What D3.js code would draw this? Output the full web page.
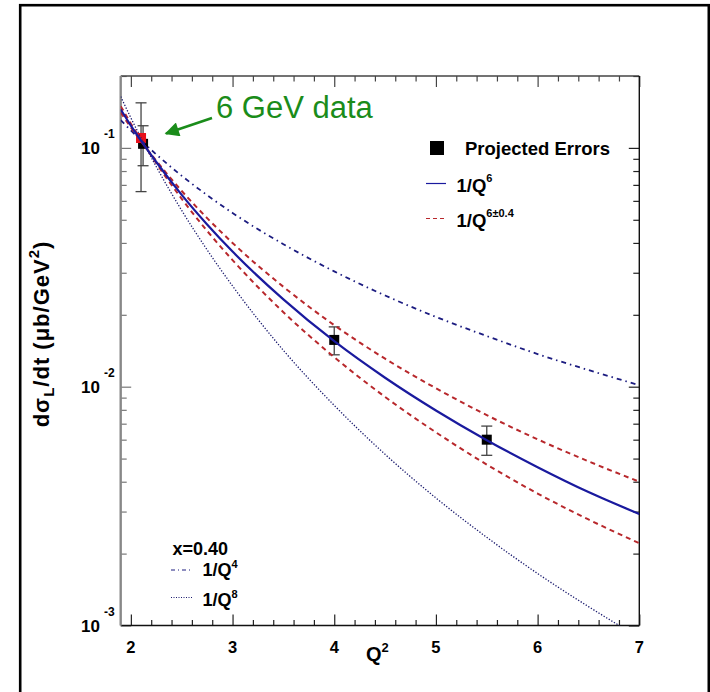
<!DOCTYPE html>
<html lang="en">
<head>
    <meta charset="UTF-8">
    <title>dsigma_L/dt vs Q2</title>
    <script src="https://cdn.jsdelivr.net/npm/d3@7"></script>
    <style>
        body {
            margin: 0;
            background: white;
        }

        text {
            font-family: "Liberation Sans", Arial, Helvetica, sans-serif;
            font-weight: bold;
        }
    </style>
</head>
<body>

<svg id="fig" width="710" height="692"></svg>

<script>
    // curves at these Q2 values
    let q2_grid = [1.9, 2.0, 2.25, 2.5, 2.75, 3.0, 3.5, 4.0, 4.5, 5.0, 5.5, 6.0, 6.5, 7.0]
    let q6_curve = [0.145, 0.124, 0.0873, 0.0636, 0.0478, 0.0368, 0.0232, 0.0155, 0.0109, 0.00795, 0.00597, 0.00460, 0.00362, 0.00293]
    let q6_upper = [0.1405, 0.1218, 0.0883, 0.0660, 0.0508, 0.0400, 0.0262, 0.0181, 0.0131, 0.00985, 0.00760, 0.00602, 0.00487, 0.00400]
    let q6_lower = [0.1495, 0.1263, 0.0863, 0.0612, 0.0449, 0.0339, 0.0205, 0.0133, 0.00906, 0.00644, 0.00472, 0.00357, 0.00278, 0.00221]
    let q4_curve = [0.1307, 0.1183, 0.0939, 0.0764, 0.0634, 0.0534, 0.0395, 0.0304, 0.0241, 0.0196, 0.0163, 0.0137, 0.01174, 0.01015]
    let q8_curve = [0.164, 0.1336, 0.0834, 0.0547, 0.0374, 0.0264, 0.0142, 0.00835, 0.00521, 0.00342, 0.00234, 0.00165, 0.00120, 0.00089]

    // points with errors
    let proj_q2 = [2.12, 4.0, 5.5]
    let proj_val = [0.104, 0.0157, 0.0060]
    let proj_err = [0.0198, 0.0021, 0.00084]
    let gev_q2 = [2.10]
    let gev_val = [0.110]
    let gev_err = [0.0444]

    let x_major = [2, 3, 4, 5, 6, 7]
    let y_major = [0.001, 0.01, 0.1]
    let y_exp = ["-3", "-2", "-1"]

    let svg = d3.select("#fig")

    // outer frame of the picture
    svg.append("rect")
        .attr("x", 20.2).attr("y", 5.2)
        .attr("width", 688.6).attr("height", 720)
        .attr("fill", "none")
        .attr("stroke", "black")
        .attr("stroke-width", 2.6)

    let f_left = 120.7, f_right = 639.3, f_top = 76, f_bottom = 625.5
    let x = d3.scaleLinear().domain([1.9, 7]).range([f_left, f_right])
    let y = d3.scaleLog().domain([0.001, 0.2]).range([f_bottom, f_top])

    let x_minor = d3.range(2.2, 6.9, 0.2).filter(v => Math.abs(v - Math.round(v)) > 0.05)
    let y_minor = []
    for (let dec of [0.001, 0.01]) {
        for (let k = 2; k <= 9; k++) y_minor.push(k * dec)
    }
    y_minor.push(0.2)

    function tickAxis(axisFn, scale, values, size, pos, color) {
        let g = svg.append("g")
            .attr("transform", pos)
            .call(axisFn(scale).tickValues(values).tickSize(size).tickFormat(""))
        g.select(".domain").remove()
        g.selectAll("line").attr("stroke", color).attr("stroke-width", 1.2)
        return g
    }

    // ticks on all four sides, pointing in
    tickAxis(d3.axisTop, x, x_minor, 5.5, `translate(0,${f_bottom})`, "#222")
    tickAxis(d3.axisTop, x, x_major, 11, `translate(0,${f_bottom})`, "#222")
    tickAxis(d3.axisBottom, x, x_minor, 5.5, `translate(0,${f_top})`, "#444")
    tickAxis(d3.axisBottom, x, x_major, 11, `translate(0,${f_top})`, "#444")
    tickAxis(d3.axisRight, y, y_minor, 6, `translate(${f_left},0)`, "#777")
    tickAxis(d3.axisRight, y, y_major, 10.5, `translate(${f_left},0)`, "#777")
    tickAxis(d3.axisLeft, y, y_minor, 6, `translate(${f_right},0)`, "#222")
    tickAxis(d3.axisLeft, y, y_major, 10.5, `translate(${f_right},0)`, "#222")

    // frame lines
    svg.append("line").attr("x1", f_left).attr("x2", f_right).attr("y1", f_bottom).attr("y2", f_bottom)
        .attr("stroke", "#111").attr("stroke-width", 1.6)
    svg.append("line").attr("x1", f_left).attr("x2", f_right).attr("y1", f_top).attr("y2", f_top)
        .attr("stroke", "#444").attr("stroke-width", 1.4)
    svg.append("line").attr("x1", f_left).attr("x2", f_left).attr("y1", f_top).attr("y2", f_bottom)
        .attr("stroke", "#888").attr("stroke-width", 2.4)
    svg.append("line").attr("x1", f_right).attr("x2", f_right).attr("y1", f_top).attr("y2", f_bottom)
        .attr("stroke", "#111").attr("stroke-width", 1.4)

    // tick labels
    svg.append("g").selectAll("text")
        .data(x_major)
        .join("text")
        .attr("x", d => x(d))
        .attr("y", 652.5)
        .attr("text-anchor", "middle")
        .style("font-size", "16.5px")
        .text(d => d)

    y_major.forEach(function (v, i) {
        svg.append("text")
            .attr("x", 100)
            .attr("y", y(v) + 6)
            .attr("text-anchor", "end")
            .style("font-size", "17px")
            .text("10")
        svg.append("text")
            .attr("x", 104)
            .attr("y", y(v) - 10)
            .style("font-size", "12px")
            .text(y_exp[i])
    })

    // axis titles
    let xt = svg.append("text")
        .attr("x", 366)
        .attr("y", 661)
        .style("font-size", "20px")
    xt.append("tspan").text("Q")
    xt.append("tspan").attr("dy", -9).style("font-size", "13px").text("2")

    let yt = svg.append("text")
        .attr("transform", "translate(49,334) rotate(-90)")
        .attr("text-anchor", "middle")
        .style("font-size", "22px")
        .style("letter-spacing", "1px")
    yt.append("tspan").text("d\u03c3")
    yt.append("tspan").attr("dy", 5).style("font-size", "15px").text("L")
    yt.append("tspan").attr("dy", -5).text("/dt (\u03bcb/GeV")
    yt.append("tspan").attr("dy", -10).style("font-size", "15px").text("2")
    yt.append("tspan").attr("dy", 10).text(")")

    // error bars and squares
    function errorBars(xs, vs, es, color) {
        let g = svg.append("g").attr("stroke", color).attr("stroke-width", 1.3)
        xs.forEach(function (q, i) {
            let cx = x(q), y1 = y(vs[i] + es[i]), y2 = y(vs[i] - es[i])
            g.append("line").attr("x1", cx).attr("x2", cx).attr("y1", y1).attr("y2", y2)
            g.append("line").attr("x1", cx - 5.5).attr("x2", cx + 5.5).attr("y1", y1).attr("y2", y1)
            g.append("line").attr("x1", cx - 5.5).attr("x2", cx + 5.5).attr("y1", y2).attr("y2", y2)
        })
    }

    errorBars(gev_q2, gev_val, gev_err, "#444")
    errorBars(proj_q2, proj_val, proj_err, "#444")

    svg.append("g").selectAll("rect")
        .data(proj_q2)
        .join("rect")
        .attr("x", d => x(d) - 5)
        .attr("y", (d, i) => y(proj_val[i]) - 5)
        .attr("width", 10).attr("height", 10)
        .attr("fill", "black")

    svg.append("g").selectAll("rect")
        .data(gev_q2)
        .join("rect")
        .attr("x", d => x(d) - 5)
        .attr("y", (d, i) => y(gev_val[i]) - 5)
        .attr("width", 10).attr("height", 10)
        .attr("fill", "#e8101a")

    // curves, clipped to frame
    svg.append("clipPath").attr("id", "frame")
        .append("rect").attr("x", f_left).attr("y", f_top)
        .attr("width", f_right - f_left).attr("height", f_bottom - f_top)

    let line = d3.line()
        .x((d, i) => x(q2_grid[i]))
        .y(d => y(d))
        .curve(d3.curveMonotoneX)

    let curves = svg.append("g").attr("clip-path", "url(#frame)").attr("fill", "none")
    curves.append("path").attr("d", line(q8_curve))
        .attr("stroke", "#1a1a6e").attr("stroke-width", 1.3).attr("stroke-dasharray", "1.3,1.7")
    curves.append("path").attr("d", line(q4_curve))
        .attr("stroke", "#1c1c80").attr("stroke-width", 1.8).attr("stroke-dasharray", "5,4,1.5,4")
    curves.append("path").attr("d", line(q6_upper))
        .attr("stroke", "#b8282c").attr("stroke-width", 2).attr("stroke-dasharray", "5,4")
    curves.append("path").attr("d", line(q6_lower))
        .attr("stroke", "#b8282c").attr("stroke-width", 2).attr("stroke-dasharray", "5,4")
    curves.append("path").attr("d", line(q6_curve))
        .attr("stroke", "#1a1a9e").attr("stroke-width", 2.2)

    // upper right legend
    svg.append("rect").attr("x", 430).attr("y", 141).attr("width", 14).attr("height", 14).attr("fill", "black")
    svg.append("text").attr("x", 465).attr("y", 155).style("font-size", "18.5px").text("Projected Errors")

    svg.append("line").attr("x1", 426).attr("x2", 446).attr("y1", 183.5).attr("y2", 183.5)
        .attr("stroke", "#1a1a9e").attr("stroke-width", 1.2)
    let l1 = svg.append("text").attr("x", 456.5).attr("y", 191.5).style("font-size", "18.5px")
    l1.append("tspan").text("1/Q")
    l1.append("tspan").attr("dy", -10).style("font-size", "11px").text("6")

    svg.append("line").attr("x1", 426).attr("x2", 446).attr("y1", 218.5).attr("y2", 218.5)
        .attr("stroke", "#b8282c").attr("stroke-width", 1.2).attr("stroke-dasharray", "4,3")
    let l2 = svg.append("text").attr("x", 456.5).attr("y", 226.5).style("font-size", "18.5px")
    l2.append("tspan").text("1/Q")
    l2.append("tspan").attr("dy", -10).style("font-size", "11px").text("6\u00b10.4")

    // lower left legend
    svg.append("text").attr("x", 172.5).attr("y", 554.5).style("font-size", "18px").text("x=0.40")
    svg.append("line").attr("x1", 171).attr("x2", 190).attr("y1", 570).attr("y2", 570)
        .attr("stroke", "#1c1c80").attr("stroke-width", 1).attr("stroke-dasharray", "4,3,1,3")
    let l3 = svg.append("text").attr("x", 202.5).attr("y", 575.5).style("font-size", "18px")
    l3.append("tspan").text("1/Q")
    l3.append("tspan").attr("dy", -8).style("font-size", "11px").text("4")

    svg.append("line").attr("x1", 171).attr("x2", 192).attr("y1", 597.5).attr("y2", 597.5)
        .attr("stroke", "#1a1a6e").attr("stroke-width", 1).attr("stroke-dasharray", "1,1.5")
    let l4 = svg.append("text").attr("x", 202.5).attr("y", 606).style("font-size", "18px")
    l4.append("tspan").text("1/Q")
    l4.append("tspan").attr("dy", -8).style("font-size", "11px").text("8")

    // annotation
    let green = "#1a8c1a"
    svg.append("defs").append("marker")
        .attr("id", "head")
        .attr("viewBox", "0 0 10 10")
        .attr("refX", 9).attr("refY", 5)
        .attr("markerWidth", 6).attr("markerHeight", 5.5)
        .attr("markerUnits", "strokeWidth")
        .attr("orient", "auto")
        .append("path").attr("d", "M0,0 L10,5 L0,10 z").attr("fill", green)
    svg.append("line")
        .attr("x1", 212).attr("y1", 118)
        .attr("x2", 166).attr("y2", 133.5)
        .attr("stroke", green).attr("stroke-width", 2.6)
        .attr("marker-end", "url(#head)")
    svg.append("text")
        .attr("x", 216).attr("y", 117.5)
        .attr("fill", green)
        .style("font-weight", "normal")
        .style("font-size", "31px")
        .text("6 GeV data")
</script>

</body>
</html>
